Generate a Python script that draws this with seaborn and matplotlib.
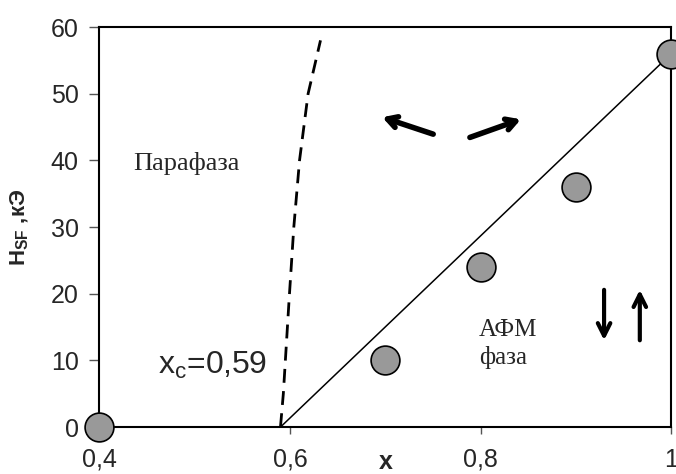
import matplotlib
matplotlib.use("Agg")
import matplotlib.pyplot as plt
import seaborn as sns

# measured points
x_pts = [0.4, 0.7, 0.8, 0.9, 1.0]
h_pts = [0, 10, 24, 36, 56]

# straight line from x_c
line_x = [0.59, 1.0]
line_h = [0, 56]

# dashed boundary of paraphase
dash_x = [0.59, 0.593, 0.599, 0.604, 0.610, 0.619, 0.632]
dash_h = [0, 5, 19, 30, 40, 50, 58]

x_ticks = [0.4, 0.6, 0.8, 1.0]
x_ticklabels = ["0,4", "0,6", "0,8", "1"]
y_ticks = [0, 10, 20, 30, 40, 50, 60]

sns.set_style("ticks")
plt.rcParams["font.family"] = ["Liberation Sans", "DejaVu Sans"]
plt.rcParams["mathtext.fontset"] = "custom"
plt.rcParams["mathtext.rm"] = "Liberation Sans"
plt.rcParams["mathtext.bf"] = "Liberation Sans:bold"

fig = plt.figure(figsize=(6.76, 4.74), dpi=100)
ax = fig.add_axes([0.147, 0.099, 0.846, 0.844])

sns.lineplot(x=dash_x, y=dash_h, sort=False, ax=ax, color="black",
             linewidth=2, linestyle=(0, (5, 3)))
sns.lineplot(x=line_x, y=line_h, sort=False, ax=ax, color="black", linewidth=1.1)
sns.scatterplot(x=x_pts, y=h_pts, ax=ax, s=430, color="#999999",
                edgecolor="black", linewidth=1.2, zorder=5, clip_on=False)

ax.set_xlim(0.4, 1.0)
ax.set_ylim(0, 60)
ax.set_xticks(x_ticks)
ax.set_xticklabels(x_ticklabels)
ax.set_yticks(y_ticks)
ax.tick_params(axis="both", labelsize=18, direction="out", color="#555555", width=1)
ax.tick_params(axis="x", length=5, pad=10)
ax.tick_params(axis="y", length=7, pad=8)
for sp in ax.spines.values():
    sp.set_visible(True)
    sp.set_linewidth(1.5)
    sp.set_color("black")

ax.set_xlabel("x", fontsize=18, fontweight="bold", va="baseline")
ax.xaxis.set_label_coords(0.5, -0.105)
ax.set_ylabel(r"H$_\mathbf{SF}$ ,кЭ", fontsize=16, fontweight="bold")
ax.yaxis.set_label_coords(-0.12, 0.5)

serif = ["Liberation Serif", "DejaVu Serif"]
ax.text(0.435, 38.6, "Парафаза", family=serif, fontsize=19)
ax.text(0.798, 13.6, "АФМ", family=serif, fontsize=18)
ax.text(0.798, 9.4, "фаза", family=serif, fontsize=18)
ax.text(0.462, 9.3, r"x$_\mathrm{c}$=0,59", fontsize=23, va="center")

arrow = dict(arrowstyle="->,head_length=0.7,head_width=0.4", color="black", lw=4)
ax.annotate("", xy=(0.694, 46.6), xytext=(0.753, 43.8), arrowprops=arrow)
ax.annotate("", xy=(0.845, 46.3), xytext=(0.786, 43.3), arrowprops=arrow)
varrow = dict(arrowstyle="->,head_length=0.9,head_width=0.45", color="black", lw=3)
ax.annotate("", xy=(0.9295, 12.6), xytext=(0.9295, 21.0), arrowprops=varrow)
ax.annotate("", xy=(0.967, 21.0), xytext=(0.967, 12.6), arrowprops=varrow)

fig.savefig("out.png", dpi=100)
